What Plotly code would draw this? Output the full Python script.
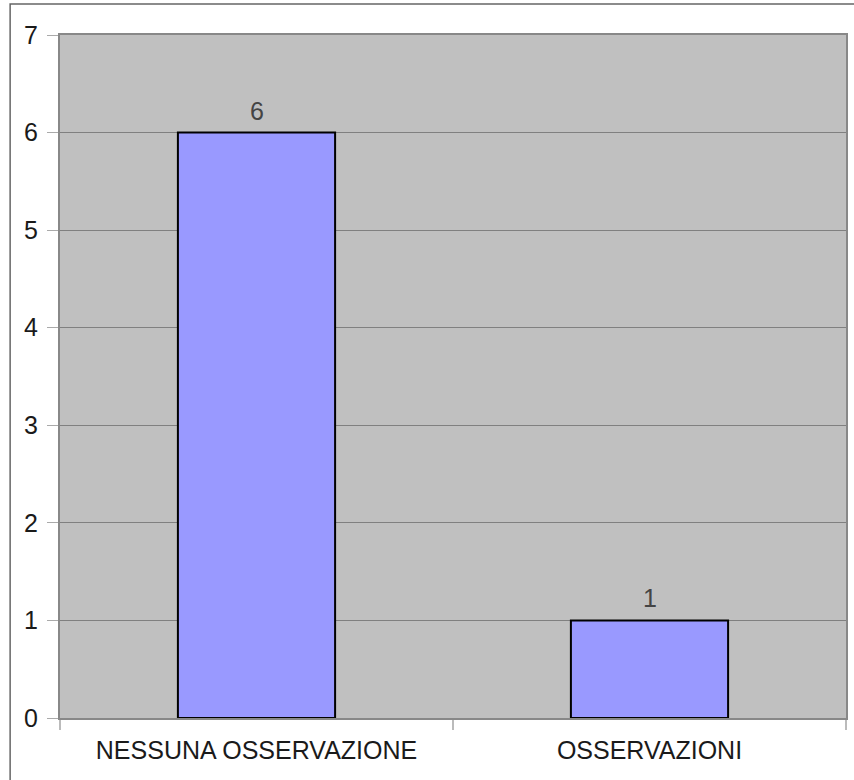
import plotly.graph_objects as go

categories = ["NESSUNA OSSERVAZIONE", "OSSERVAZIONI"]
values = [6, 1]
y_ticks = [0, 1, 2, 3, 4, 5, 6, 7]

fig = go.Figure()
fig.add_trace(go.Bar(
    x=categories, y=values,
    marker=dict(color="#9999ff", line=dict(color="#000000", width=2)),
    width=0.4,
))

for c, v in zip(categories, values):
    fig.add_annotation(
        x=c, y=v, text=str(v), showarrow=False, yanchor="bottom", yshift=6,
        font=dict(family="Liberation Sans, Arial, sans-serif", size=25, color="#444444"),
    )

L, R, T, B = 60, 6, 35, 62
W, H = 854, 780
pw, ph = W - L - R, H - T - B

fig.update_layout(
    width=W, height=H,
    margin=dict(l=L, r=R, t=T, b=B, pad=0),
    paper_bgcolor="white", plot_bgcolor="#c0c0c0",
    showlegend=False,
    bargap=0.6,
    font=dict(family="Liberation Sans, Arial, sans-serif", size=25, color="#1a1a1a"),
    xaxis=dict(
        showgrid=False, showline=True, linecolor="#888888", linewidth=2, mirror=True,
        ticks="outside", tickson="boundaries", ticklen=10, tickcolor="#bbbbbb", tickwidth=2,
        ticklabelstandoff=9,
        tickfont=dict(size=25, color="#1a1a1a"), fixedrange=True,
    ),
    yaxis=dict(
        range=[0, 7], tickvals=y_ticks, showgrid=True, gridcolor="#808080", gridwidth=1,
        showline=True, linecolor="#888888", linewidth=2, mirror=True, zeroline=False,
        ticks="outside", ticklen=11, tickcolor="#aaaaaa", tickwidth=1,
        ticklabelstandoff=4,
        tickfont=dict(size=25, color="#1a1a1a"), fixedrange=True,
    ),
    shapes=[dict(
        type="rect", xref="paper", yref="paper",
        x0=(10 - L) / pw, x1=1.2, y0=-0.3, y1=(H - B - 4) / ph,
        line=dict(color="#666666", width=1.5), fillcolor="rgba(0,0,0,0)", layer="below",
    )],
)

fig.write_html("out.html", config={"displayModeBar": False, "staticPlot": True},
               post_script="document.body.style.margin='0';document.body.style.overflow='hidden';")
